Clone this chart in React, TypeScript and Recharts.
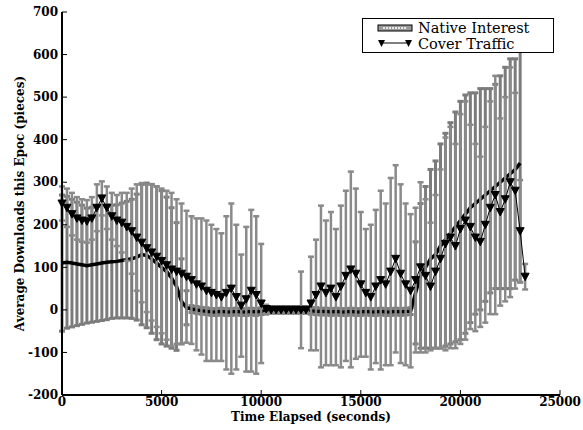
import {
  ComposedChart,
  Line,
  XAxis,
  YAxis,
  ErrorBar,
  Legend,
} from "recharts";

// time in seconds, one sample every 250 s (last cover point at 23250)
const times = [
  0, 250, 500, 750, 1000, 1250, 1500, 1750, 2000, 2250, 2500, 2750, 3000, 3250,
  3500, 3750, 4000, 4250, 4500, 4750, 5000, 5250, 5500, 5750, 6000, 6250, 6500,
  6750, 7000, 7250, 7500, 7750, 8000, 8250, 8500, 8750, 9000, 9250, 9500, 9750,
  10000, 10250, 10500, 10750, 11000, 11250, 11500, 11750, 12000, 12250, 12500,
  12750, 13000, 13250, 13500, 13750, 14000, 14250, 14500, 14750, 15000, 15250,
  15500, 15750, 16000, 16250, 16500, 16750, 17000, 17250, 17500, 17750, 18000,
  18250, 18500, 18750, 19000, 19250, 19500, 19750, 20000, 20250, 20500, 20750,
  21000, 21250, 21500, 21750, 22000, 22250, 22500, 22750, 23000, 23250,
];

const nativeInterest = [
  110, 112, 110, 108, 106, 104, 106, 108, 110, 112, 113, 114, 116, 118, 120, 124,
  130, 128, 120, 110, 100, 90, 75, 55, 20, 5, 2, 0, -2, -3, -5, -5, -4, -5, -5,
  -4, -5, -5, -4, -5, -3, -2, 0, 0, 0, 0, 0, 0, 0, 0, -2, -3, -4, -4, -5, -4,
  -5, -5, -4, -5, -5, -4, -5, -5, -4, -5, -5, -4, -5, -4, -3, 40, 80, 100, 120,
  130, 150, 165, 180, 195, 210, 225, 240, 250, 260, 270, 280, 290, 300, 310, 320,
  330, 345, null,
];

const nativeErr = [
  160, 155, 150, 145, 140, 135, 135, 135, 135, 135, 133, 133, 135, 137, 140, 148,
  165, 170, 175, 180, 180, 175, 165, 150, 100, 40, 8, 8, 8, 8, 8, 8, 8, 8, 8, 8,
  8, 8, 8, 8, 8, 8, 8, 8, 8, 8, 8, 8, 8, 8, 8, 8, 8, 8, 8, 8, 8, 8, 8, 8, 8, 8,
  8, 8, 8, 8, 8, 8, 8, 8, 8, 120, 170, 190, 210, 220, 240, 250, 260, 270, 280,
  280, 270, 260, 260, 250, 240, 240, 250, 260, 270, 260, 280, null,
];

const coverTraffic = [
  250, 240, 225, 215, 210, 208, 215, 240, 262, 240, 220, 210, 205, 195, 185, 170,
  158, 145, 135, 125, 115, 105, 95, 90, 85, 78, 70, 60, 55, 45, 40, 35, 30, 40,
  50, 30, 10, 25, 45, 35, 15, 2, 0, 0, 0, 0, 0, 0, 0, 0, 15, 35, 55, 40, 50, 30,
  55, 80, 95, 85, 60, 40, 30, 55, 70, 60, 90, 120, 85, 60, 45, 70, 100, 80, 55,
  90, 120, 155, 170, 150, 190, 210, 195, 170, 160, 200, 240, 270, 230, 260, 300,
  280, 185, 78,
];

const coverErr = [
  40, 45, 50, 50, 50, 50, 50, 55, 40, 50, 55, 60, 70, 80, 100, 125, 140, 150, 160,
  165, 170, 175, 180, 170, 165, 155, 150, 155, 160, 165, 160, 155, 150, 180, 200,
  170, 120, 170, 190, 185, 140, 10, 5, 5, 5, 5, 5, 5, 90, 5, 110, 130, 190, 170,
  180, 160, 190, 200, 230, 200, 170, 150, 170, 180, 210, 190, 220, 220, 210, 190,
  180, 170, 200, 180, 150, 180, 210, 250, 260, 240, 270, 280, 240, 220, 200, 230,
  250, 280, 220, 240, 270, 230, 120, 30,
];

const xTicks = [0, 5000, 10000, 15000, 20000, 25000];
const yTicks = [-200, -100, 0, 100, 200, 300, 400, 500, 600, 700];

const rows = times.map((t, i) => ({
  t,
  ni: nativeInterest[i],
  ne: nativeErr[i],
  ct: coverTraffic[i],
  ce: coverErr[i],
}));

const font = "'DejaVu Serif', serif";
const tickStyle = { fill: "#000", fontSize: 12, fontWeight: 700, fontFamily: font };
const frame = { stroke: "#000", strokeWidth: 2 };

function TriDown(props: any) {
  const { cx, cy } = props;
  if (cx == null || cy == null) return null;
  return (
    <path
      d={`M${cx - 4},${cy - 3.5} L${cx + 4},${cy - 3.5} L${cx},${cy + 4} Z`}
      fill="#000"
      stroke="#000"
      strokeWidth={1}
    />
  );
}

function LegendBox() {
  const row = { display: "flex", alignItems: "center", height: 16 };
  const text = {
    fontFamily: font,
    fontSize: 14.5,
    color: "#000",
    marginLeft: 5,
    lineHeight: "15px",
  };
  return (
    <div
      style={{
        border: "1.5px solid #000",
        background: "#fff",
        width: 192,
        height: 35,
        boxSizing: "border-box",
        padding: "1px 0 0 14px",
      }}
    >
      <div style={row}>
        <svg width={36} height={10}>
          <rect x={1} y={2} width={34} height={6} fill="#9a9a9a" stroke="#000" strokeWidth={1} />
          <line x1={6} y1={5} x2={30} y2={5} stroke="#fff" strokeWidth={1.5} strokeDasharray="2 1" />
        </svg>
        <span style={text}>Native Interest</span>
      </div>
      <div style={row}>
        <svg width={36} height={10}>
          <line x1={4} y1={4} x2={32} y2={4} stroke="#000" strokeWidth={1} />
          <path d="M1,1 L8,1 L4.5,8 Z" fill="#000" />
          <path d="M28,1 L35,1 L31.5,8 Z" fill="#000" />
        </svg>
        <span style={text}>Cover Traffic</span>
      </div>
    </div>
  );
}

export default function App() {
  return (
    <div style={{ position: "absolute", left: 0, top: 0, background: "#fff" }}>
      <ComposedChart
        width={583}
        height={430}
        data={rows}
        margin={{ top: 12, right: 23, bottom: 5, left: 18 }}
      >
        <XAxis
          dataKey="t"
          type="number"
          domain={[0, 25000]}
          ticks={xTicks}
          height={30}
          tick={tickStyle}
          tickSize={-5}
          tickMargin={7}
          axisLine={frame}
          tickLine={{ stroke: "#000" }}
          label={{
            value: "Time Elapsed (seconds)",
            position: "insideBottom",
            offset: 4,
            style: tickStyle,
          }}
        />
        <XAxis
          xAxisId="top"
          orientation="top"
          type="number"
          domain={[0, 25000]}
          ticks={xTicks}
          height={0}
          tickFormatter={() => ""}
          tickSize={-5}
          axisLine={frame}
          tickLine={{ stroke: "#000" }}
        />
        <YAxis
          type="number"
          domain={[-200, 700]}
          ticks={yTicks}
          width={44}
          tick={tickStyle}
          tickSize={-5}
          tickMargin={9}
          axisLine={frame}
          tickLine={{ stroke: "#000" }}
          allowDataOverflow
          label={{
            value: "Average Downloads this Epoc (pieces)",
            angle: -90,
            position: "insideLeft",
            offset: 2,
            style: { ...tickStyle, textAnchor: "middle" },
          }}
        />
        <YAxis
          yAxisId="right"
          orientation="right"
          type="number"
          domain={[-200, 700]}
          ticks={yTicks}
          width={0}
          tickFormatter={() => ""}
          tickSize={-5}
          axisLine={frame}
          tickLine={{ stroke: "#000" }}
        />
        <Line
          dataKey="ni"
          name="Native Interest"
          stroke="#000"
          strokeWidth={3.5}
          dot={false}
          isAnimationActive={false}
          connectNulls={false}
        >
          <ErrorBar
            dataKey="ne"
            width={3}
            stroke="#7c7c7c"
            strokeWidth={3}
            direction="y"
            isAnimationActive={false}
          />
        </Line>
        <Line
          dataKey="ct"
          name="Cover Traffic"
          stroke="#000"
          strokeWidth={1}
          dot={<TriDown />}
          isAnimationActive={false}
        >
          <ErrorBar
            dataKey="ce"
            width={3}
            stroke="#8a8a8a"
            strokeWidth={2.5}
            direction="y"
            isAnimationActive={false}
          />
        </Line>
        <Legend
          layout="horizontal"
          verticalAlign="middle"
          align="center"
          content={() => <LegendBox />}
          wrapperStyle={{ position: "absolute", left: 362, top: 18, width: 192 }}
        />
      </ComposedChart>
    </div>
  );
}
